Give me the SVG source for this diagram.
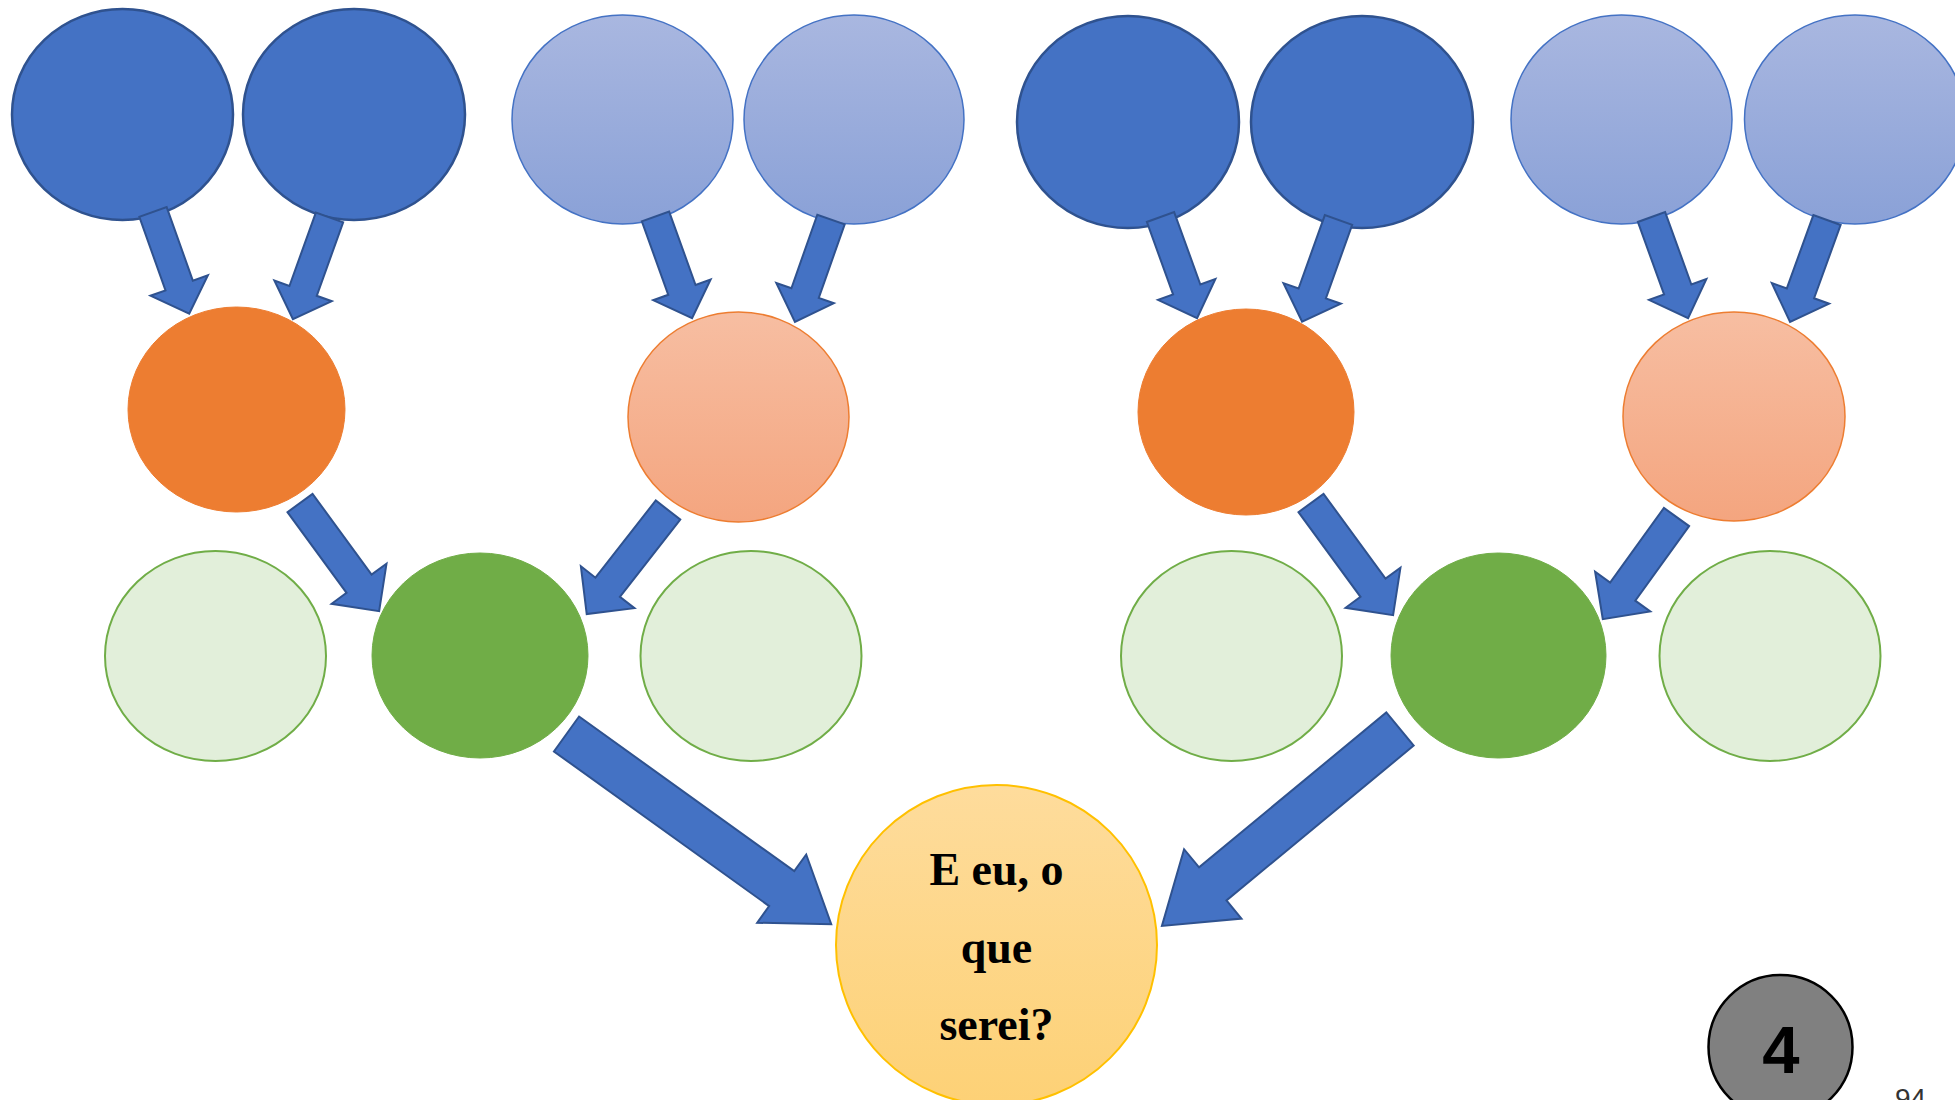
<svg xmlns="http://www.w3.org/2000/svg" width="1955" height="1100" viewBox="0 0 1955 1100">
<defs>
<linearGradient id="gBlue" x1="0" y1="0" x2="0" y2="1"><stop offset="0" stop-color="#A9B7E0"/><stop offset="1" stop-color="#8AA1D7"/></linearGradient>
<linearGradient id="gSalmon" x1="0" y1="0" x2="0" y2="1"><stop offset="0" stop-color="#F7BEA2"/><stop offset="1" stop-color="#F4A57F"/></linearGradient>
<linearGradient id="gGold" x1="0" y1="0" x2="0" y2="1"><stop offset="0" stop-color="#FEDC9C"/><stop offset="1" stop-color="#FDD176"/></linearGradient>
</defs>
<style>
.dblue{fill:#4472C4;stroke:#2F528F;stroke-width:2.5}
.lblue{fill:url(#gBlue);stroke:#4472C4;stroke-width:1.5}
.orange{fill:#ED7D31;stroke:#ED7D31;stroke-width:1}
.salmon{fill:url(#gSalmon);stroke:#ED7D31;stroke-width:1.5}
.lgreen{fill:#E2EFDA;stroke:#70AD47;stroke-width:2}
.green{fill:#70AD47;stroke:#70AD47;stroke-width:1}
.gold{fill:url(#gGold);stroke:#FFC000;stroke-width:2}
.arrow{fill:#4472C4;stroke:#2F528F;stroke-width:2;stroke-linejoin:miter}
.q{font-family:"Liberation Serif","Times New Roman",serif;font-weight:bold;font-size:46px;fill:#000;text-anchor:middle}
</style>
<rect width="1955" height="1100" fill="#FFFFFF"/>
<g id="gp1"><ellipse class="dblue" cx="122.5" cy="114.5" rx="110.5" ry="105.5"/></g>
<g id="gp2"><ellipse class="dblue" cx="354" cy="114.5" rx="111" ry="105.5"/></g>
<g id="gp3"><ellipse class="lblue" cx="622.5" cy="119.5" rx="110.5" ry="104.5"/></g>
<g id="gp4"><ellipse class="lblue" cx="854" cy="119.5" rx="110" ry="104.5"/></g>
<g id="gp5"><ellipse class="dblue" cx="1128" cy="122" rx="111" ry="106"/></g>
<g id="gp6"><ellipse class="dblue" cx="1362" cy="122" rx="111" ry="106"/></g>
<g id="gp7"><ellipse class="lblue" cx="1621.5" cy="119.5" rx="110.5" ry="104.5"/></g>
<g id="gp8"><ellipse class="lblue" cx="1855" cy="119.5" rx="110.5" ry="104.5"/></g>
<g id="p1"><ellipse class="orange" cx="236.5" cy="409.5" rx="108.5" ry="102.5"/></g>
<g id="p2"><ellipse class="salmon" cx="738.5" cy="417" rx="110.5" ry="105"/></g>
<g id="p3"><ellipse class="orange" cx="1246" cy="412" rx="108" ry="103"/></g>
<g id="p4"><ellipse class="salmon" cx="1734" cy="416.5" rx="111" ry="104.5"/></g>
<g id="s1"><ellipse class="lgreen" cx="215.5" cy="656" rx="110.5" ry="105"/></g>
<g id="s2"><ellipse class="green" cx="480" cy="655.5" rx="108" ry="102.5"/></g>
<g id="s3"><ellipse class="lgreen" cx="751" cy="656" rx="110.5" ry="105"/></g>
<g id="s4"><ellipse class="lgreen" cx="1231.5" cy="656" rx="110.5" ry="105"/></g>
<g id="s5"><ellipse class="green" cx="1498.5" cy="655.5" rx="107.5" ry="102.5"/></g>
<g id="s6"><ellipse class="lgreen" cx="1770" cy="656" rx="110.5" ry="105"/></g>
<g id="me">
<ellipse class="gold" cx="996.5" cy="945" rx="160.5" ry="160"/>
<text class="q" x="996.5" y="885">E eu, o</text>
<text class="q" x="996.5" y="963">que</text>
<text class="q" x="996.5" y="1040">serei?</text>
</g>
<g id="badge">
<ellipse cx="1780.5" cy="1047" rx="72" ry="72" fill="#808080" stroke="#000" stroke-width="2.5"/>
<text x="1781" y="1073" font-family="'Liberation Sans',Arial,sans-serif" font-weight="bold" font-size="67" fill="#000" text-anchor="middle">4</text>
</g>
<g id="pagenum"><text x="1895" y="1108" font-family="'Liberation Sans',Arial,sans-serif" font-size="28" fill="#333333">94</text></g>
<g id="connectors">
<polygon class="arrow" transform="translate(153,212) rotate(70.4)" points="0,-14.5 78,-14.5 78,-30.5 108,0 78,30.5 78,14.5 0,14.5"/>
<polygon class="arrow" transform="translate(329.5,217.5) rotate(109.8)" points="0,-14.5 78,-14.5 78,-30.5 108,0 78,30.5 78,14.5 0,14.5"/>
<polygon class="arrow" transform="translate(655.5,216.5) rotate(70.2)" points="0,-14.5 78,-14.5 78,-30.5 108,0 78,30.5 78,14.5 0,14.5"/>
<polygon class="arrow" transform="translate(831,219.5) rotate(109.4)" points="0,-14.5 78,-14.5 78,-30.5 108.5,0 78,30.5 78,14.5 0,14.5"/>
<polygon class="arrow" transform="translate(1160.5,217) rotate(70.1)" points="0,-14.5 77,-14.5 77,-30.5 107.5,0 77,30.5 77,14.5 0,14.5"/>
<polygon class="arrow" transform="translate(1338.5,220) rotate(109.7)" points="0,-14.5 78,-14.5 78,-30.5 108,0 78,30.5 78,14.5 0,14.5"/>
<polygon class="arrow" transform="translate(1651.5,217) rotate(70.1)" points="0,-14.5 77,-14.5 77,-30.5 107.5,0 77,30.5 77,14.5 0,14.5"/>
<polygon class="arrow" transform="translate(1827,220) rotate(109.9)" points="0,-14.5 78,-14.5 78,-30.5 108.5,0 78,30.5 78,14.5 0,14.5"/>
<polygon class="arrow" transform="translate(300,503) rotate(53.8)" points="0,-15.5 100,-15.5 100,-34 134,0 100,34 100,15.5 0,15.5"/>
<polygon class="arrow" transform="translate(668,510) rotate(128)" points="0,-15.5 98,-15.5 98,-34 132,0 98,34 98,15.5 0,15.5"/>
<polygon class="arrow" transform="translate(1311,503) rotate(53.8)" points="0,-15.5 105,-15.5 105,-34 139,0 105,34 105,15.5 0,15.5"/>
<polygon class="arrow" transform="translate(1676.5,517) rotate(125.8)" points="0,-15.5 92,-15.5 92,-34 126,0 92,34 92,15.5 0,15.5"/>
<polygon class="arrow" transform="translate(566.5,734) rotate(35.7)" points="0,-21.5 265,-21.5 265,-42 326,0 265,42 265,21.5 0,21.5"/>
<polygon class="arrow" transform="translate(1400,729) rotate(140.4)" points="0,-21.5 243,-21.5 243,-45 309,0 243,45 243,21.5 0,21.5"/>
</g>
</svg>
